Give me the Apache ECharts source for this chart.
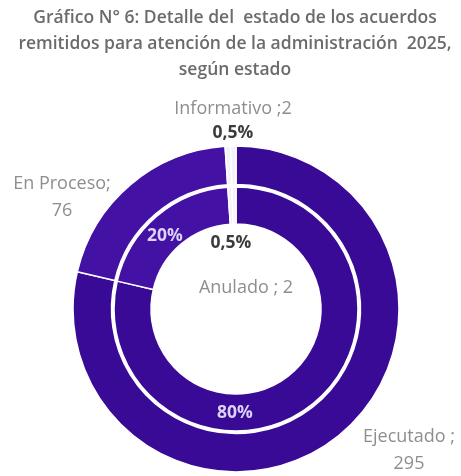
<!DOCTYPE html>
<html>
<head>
<meta charset="utf-8">
<script src="https://cdn.jsdelivr.net/npm/echarts@6/dist/echarts.min.js"></script>
<style>
  html, body { margin: 0; padding: 0; background: #ffffff; }
  #chart { width: 461px; height: 476px; }
</style>
</head>
<body>
<div id="chart"></div>
<script>
// datos del gráfico
const categorias = ['Ejecutado', 'En Proceso', 'Informativo', 'Anulado']
const valores = [295, 76, 2, 2]
const separadores = [' ;\n', ';\n', ' ;', ' ; ']
const porcentajes = ['80%', '20%', '0,5%', '0,5%']

// colores y posición de etiquetas (px)
const colores = ['#390a95', '#4411a5', '#f4f1fa', '#f4f1fa']
const colorPct = ['#ddd2f7', '#ddd2f7', '#3c3c3c', '#3c3c3c']
const posNombre = [[409, 450], [62, 197], [233, 109], [246, 288]]
const posPct = [[235, 413], [165, 236], [233, 133], [231, 243]]

const centro = [236, 309]

const chart = echarts.init(document.getElementById('chart'))

const datosExterior = categorias.map((c, i) => ({
  name: c,
  value: valores[i],
  itemStyle: { color: colores[i] }
}))
const datosInterior = categorias.map((c, i) => ({
  name: c,
  value: valores[i],
  itemStyle: { color: colores[i] },
  label: { color: colorPct[i] }
}))

const option = {
  animation: false,
  title: {
    text: 'Gráfico N° 6: Detalle del  estado de los acuerdos\nremitidos para atención de la administración  2025,\nsegún estado',
    left: 235,
    top: 5,
    textAlign: 'center',
    padding: 0,
    textStyle: {
      fontFamily: 'Open Sans',
      fontWeight: 600,
      fontSize: 17.5,
      lineHeight: 26,
      color: '#6b6b6b'
    }
  },
  series: [
    {
      // anillo exterior
      type: 'pie',
      center: centro,
      radius: [124.5, 163],
      startAngle: 90,
      clockwise: true,
      silent: true,
      avoidLabelOverlap: false,
      itemStyle: { borderColor: '#ffffff', borderWidth: 1.5 },
      label: {
        show: true,
        position: 'outside',
        fontFamily: 'Open Sans',
        fontSize: 18,
        lineHeight: 27,
        color: '#8e8e8e',
        align: 'center',
        formatter: p => p.name + separadores[p.dataIndex] + p.value
      },
      labelLine: { show: false },
      labelLayout: p => ({
        x: posNombre[p.dataIndex][0],
        y: posNombre[p.dataIndex][1],
        align: 'center',
        verticalAlign: 'middle'
      }),
      data: datosExterior
    },
    {
      // anillo interior
      type: 'pie',
      center: centro,
      radius: [85, 122],
      startAngle: 90,
      clockwise: true,
      silent: true,
      avoidLabelOverlap: false,
      itemStyle: { borderColor: '#ffffff', borderWidth: 1.5 },
      label: {
        show: true,
        position: 'outside',
        fontFamily: 'Open Sans',
        fontSize: 17.5,
        fontWeight: 'bold',
        formatter: p => porcentajes[p.dataIndex]
      },
      labelLine: { show: false },
      labelLayout: p => ({
        x: posPct[p.dataIndex][0],
        y: posPct[p.dataIndex][1],
        align: 'center',
        verticalAlign: 'middle'
      }),
      data: datosInterior
    }
  ]
}

chart.setOption(option)
window.addEventListener('resize', () => {
  chart.resize()
})
</script>
</body>
</html>
